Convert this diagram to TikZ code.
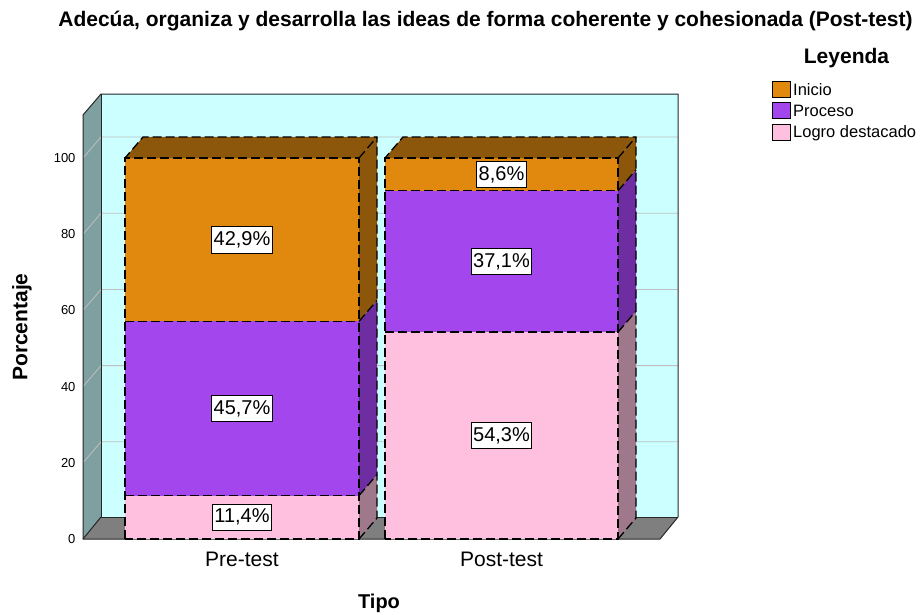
\documentclass[tikz,border=0pt]{standalone}
\usepackage{fontspec}
\setmainfont{Liberation Sans}
\definecolor{cInicio}{HTML}{E0890E}
\definecolor{cInicioS}{HTML}{8C570A}
\definecolor{cProceso}{HTML}{A346EE}
\definecolor{cProcesoS}{HTML}{6E2DA0}
\definecolor{cLogro}{HTML}{FFC0E0}
\definecolor{cLogroS}{HTML}{A0788C}
\definecolor{cBack}{HTML}{CCFFFF}
\definecolor{cSide}{HTML}{7FA0A0}
\definecolor{cFloor}{HTML}{7F7F7F}
\tikzset{
  wallline/.style={draw=black!85, line width=1pt, line join=round},
  gridl/.style={draw=black!25, line width=0.8pt},
  segline/.style={draw=black, line width=1.3pt, dash pattern=on 9pt off 4pt},
  pct/.style={draw=black, fill=white, line width=0.8pt, font=\fontsize{20}{20}\selectfont, inner xsep=2pt, inner ysep=5pt},
  ticklab/.style={anchor=east, font=\fontsize{13}{13}\selectfont},
  catlab/.style={font=\fontsize{21}{21}\selectfont},
  axtitle/.style={font=\bfseries\fontsize{20}{20}\selectfont},
  legtext/.style={anchor=west, font=\fontsize{16.5}{16.5}\selectfont, inner sep=0pt},
  swatch/.style={draw=black, line width=0.8pt},
}
\begin{document}
\begin{tikzpicture}[x=1pt,y=-1pt]
\useasboundingbox (0,0) rectangle (921,614);
% title
\node[font=\bfseries\fontsize{21}{21}\selectfont] (title) at (485.5,21) {Adecúa, organiza y desarrolla las ideas de forma coherente y cohesionada (Post-test)};
% walls
\fill[cSide] (83,115) -- (101,94) -- (101,517) -- (83,539) -- cycle;
\fill[cBack] (101,94) rectangle (678,517);
\fill[cFloor] (83,539) -- (101,517) -- (678,517) -- (660,539) -- cycle;
% gridlines and tick labels
\foreach \v in {20,40,60,80,100}{
  \pgfmathsetmacro{\yf}{539-3.81*\v}
  \pgfmathsetmacro{\yb}{\yf-21}
  \draw[gridl] (83,\yf) -- (101,\yb) -- (678,\yb);
  \node[ticklab] (tick\v) at (79,\yf) {\v};
}
\node[ticklab] (tick0) at (79,539) {0};
\draw[wallline] (83,539) -- (83,115) -- (101,94) -- (678,94) -- (678,517) -- (660,539) -- cycle;
\draw[wallline] (101,94) -- (101,517) -- (678,517);
\draw[wallline] (101,517) -- (83,539);
% ---- Pre-test bar
\fill[cLogro] (125,495.6) rectangle (359,539);
\fill[cLogroS] (359,495.6) -- (377,474.6) -- (377,518) -- (359,539) -- cycle;
\fill[cProceso] (125,321.4) rectangle (359,495.6);
\fill[cProcesoS] (359,321.4) -- (377,300.4) -- (377,474.6) -- (359,495.6) -- cycle;
\fill[cInicio] (125,158) rectangle (359,321.4);
\fill[cInicioS] (359,158) -- (377,137) -- (377,300.4) -- (359,321.4) -- cycle;
\fill[cInicioS] (125,158) -- (143,137) -- (377,137) -- (359,158) -- cycle;
\draw[segline] (125,539) rectangle (359,158);
\draw[segline] (125,321.4) -- (359,321.4);
\draw[segline] (125,495.6) -- (359,495.6);
\draw[segline] (359,539) -- (377,518) -- (377,137) -- (143,137) -- (125,158);
\draw[segline] (359,158) -- (377,137);
\draw[segline] (359,321.4) -- (377,300.4);
\draw[segline] (359,495.6) -- (377,474.6);
% ---- Post-test bar
\fill[cLogro] (385,332.1) rectangle (618,539);
\fill[cLogroS] (618,332.1) -- (636,311.1) -- (636,518) -- (618,539) -- cycle;
\fill[cProceso] (385,190.8) rectangle (618,332.1);
\fill[cProcesoS] (618,190.8) -- (636,169.8) -- (636,311.1) -- (618,332.1) -- cycle;
\fill[cInicio] (385,158) rectangle (618,190.8);
\fill[cInicioS] (618,158) -- (636,137) -- (636,169.8) -- (618,190.8) -- cycle;
\fill[cInicioS] (385,158) -- (403,137) -- (636,137) -- (618,158) -- cycle;
\draw[segline] (385,539) rectangle (618,158);
\draw[segline] (385,190.8) -- (618,190.8);
\draw[segline] (385,332.1) -- (618,332.1);
\draw[segline] (618,539) -- (636,518) -- (636,137) -- (403,137) -- (385,158);
\draw[segline] (618,158) -- (636,137);
\draw[segline] (618,190.8) -- (636,169.8);
\draw[segline] (618,332.1) -- (636,311.1);
% value labels
\node[pct] (preI) at (242,239.7) {42,9\%};
\node[pct] (preP) at (242,408.5) {45,7\%};
\node[pct] (preL) at (242,517.3) {11,4\%};
\node[pct] (postI) at (501.5,174.4) {8,6\%};
\node[pct] (postP) at (501.5,261.5) {37,1\%};
\node[pct] (postL) at (501.5,435.5) {54,3\%};
% axis labels
\node[catlab] (catpre) at (242,559) {Pre-test};
\node[catlab] (catpost) at (501.5,559) {Post-test};
\node[axtitle] (tipo) at (379,603) {Tipo};
\node[axtitle, font=\bfseries\fontsize{21}{21}\selectfont, rotate=90] (porc) at (22,327) {Porcentaje};
% legend
\node[font=\bfseries\fontsize{21}{21}\selectfont] (leyenda) at (846.5,58) {Leyenda};
\draw[swatch, fill=cInicio] (772,81) rectangle (790,97);
\draw[swatch, fill=cProceso] (772,102) rectangle (790,118);
\draw[swatch, fill=cLogro] (772,124) rectangle (790,140);
\node[legtext] (lI) at (793,90) {Inicio};
\node[legtext] (lP) at (793,111) {Proceso};
\node[legtext] (lL) at (793,133) {Logro destacado};
\end{tikzpicture}
\end{document}
